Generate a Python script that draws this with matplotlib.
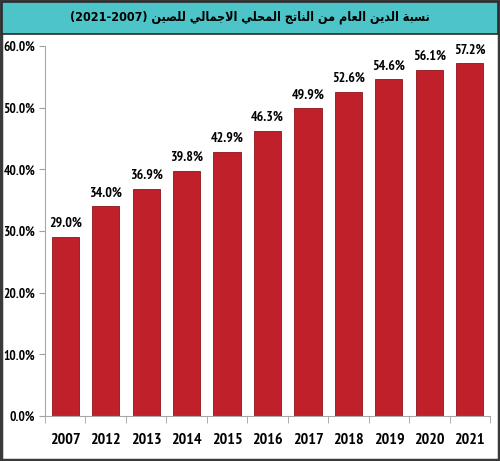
import matplotlib.pyplot as plt
from matplotlib.patches import Rectangle
import numpy as np

years = ['2007', '2012', '2013', '2014', '2015', '2016', '2017', '2018', '2019', '2020', '2021']
debt_ratio = [29.0, 34.0, 36.9, 39.8, 42.9, 46.3, 49.9, 52.6, 54.6, 56.1, 57.2]
title_words = ['نسبة', 'الدين', 'العام', 'من', 'الناتج', 'المحلي', 'الاجمالي', 'للصين']
title_years = '(2021-2007)'

# matplotlib has no arabic shaping / bidi, so do it by hand with presentation forms
FORMS = {
    'ا': ('\uFE8D', '\uFE8E', None, None),
    'ب': ('\uFE8F', '\uFE90', '\uFE91', '\uFE92'),
    'ة': ('\uFE93', '\uFE94', None, None),
    'ت': ('\uFE95', '\uFE96', '\uFE97', '\uFE98'),
    'ج': ('\uFE9D', '\uFE9E', '\uFE9F', '\uFEA0'),
    'ح': ('\uFEA1', '\uFEA2', '\uFEA3', '\uFEA4'),
    'د': ('\uFEA9', '\uFEAA', None, None),
    'س': ('\uFEB1', '\uFEB2', '\uFEB3', '\uFEB4'),
    'ص': ('\uFEB9', '\uFEBA', '\uFEBB', '\uFEBC'),
    'ع': ('\uFEC9', '\uFECA', '\uFECB', '\uFECC'),
    'ل': ('\uFEDD', '\uFEDE', '\uFEDF', '\uFEE0'),
    'م': ('\uFEE1', '\uFEE2', '\uFEE3', '\uFEE4'),
    'ن': ('\uFEE5', '\uFEE6', '\uFEE7', '\uFEE8'),
    'ي': ('\uFEF1', '\uFEF2', '\uFEF3', '\uFEF4'),
}


def shape_word(word):
    out = []
    prev_joins = False
    i = 0
    while i < len(word):
        ch = word[i]
        if ch == 'ل' and i + 1 < len(word) and word[i + 1] == 'ا':
            out.append('\uFEFC' if prev_joins else '\uFEFB')
            prev_joins = False
            i += 2
            continue
        iso, fin, ini, med = FORMS[ch]
        nxt = i + 1 < len(word)
        can_fwd = ini is not None and nxt
        if prev_joins and can_fwd:
            out.append(med)
        elif prev_joins:
            out.append(fin)
        elif can_fwd:
            out.append(ini)
        else:
            out.append(iso)
        prev_joins = ini is not None
        i += 1
    return ''.join(reversed(out))


# visual (left to right) order
title = title_years + ' ' + ' '.join(shape_word(w) for w in reversed(title_words))

plt.rcParams['font.family'] = ['PT Sans Narrow', 'Roboto Condensed', 'DejaVu Sans']
plt.rcParams['font.weight'] = 'bold'

fig = plt.figure(figsize=(5, 4.61), dpi=100)

# frame + title banner
fig.patches.append(Rectangle((0.002, 0.002), 0.996, 0.996, transform=fig.transFigure,
                             fill=False, edgecolor='#3a3a3a', linewidth=2.5, zorder=0))
fig.patches.append(Rectangle((0.004, 0.926), 0.992, 0.07, transform=fig.transFigure,
                             facecolor='#4cc4c8', edgecolor='#2b2b2b', linewidth=1.2, zorder=1))
fig.text(0.5, 0.962, title, ha='center', va='center', fontsize=9, fontweight='bold',
         family=['DejaVu Sans'], fontstretch='condensed', color='black')

ax = fig.add_axes([0.09, 0.0976, 0.89, 0.8024])
x = np.arange(len(years))
bars = ax.bar(x, debt_ratio, width=0.67, color='#c0202a', edgecolor='#8e1218', linewidth=0.6)

for xi, v in zip(x, debt_ratio):
    ax.annotate(f'{v:.1f}%', (xi, v), xytext=(0, 5), textcoords='offset points',
                ha='center', va='bottom', fontsize=10, fontweight='bold')

ax.set_xlim(-0.5, len(years) - 0.5)
ax.set_ylim(0, 60)
ax.set_yticks(np.arange(0, 61, 10))
ax.set_yticklabels([f'{t:.1f}%' for t in np.arange(0, 61, 10)], fontsize=9.5, fontweight='bold')
ax.set_xticks(x)
ax.set_xticklabels(years, fontsize=11.5, fontweight='bold')
ax.set_xticks(np.arange(-0.5, len(years)), minor=True)
ax.tick_params(axis='x', which='major', length=0, pad=12)
ax.tick_params(axis='x', which='minor', length=5, color='#a0a0a0', direction='out')
ax.tick_params(axis='y', length=4, color='#a0a0a0', pad=3)

for s in ['top', 'right']:
    ax.spines[s].set_visible(False)
ax.spines['left'].set_color('#a8a8a8')
ax.spines['bottom'].set_color('#a8a8a8')

fig.savefig('out.png', dpi=100)
